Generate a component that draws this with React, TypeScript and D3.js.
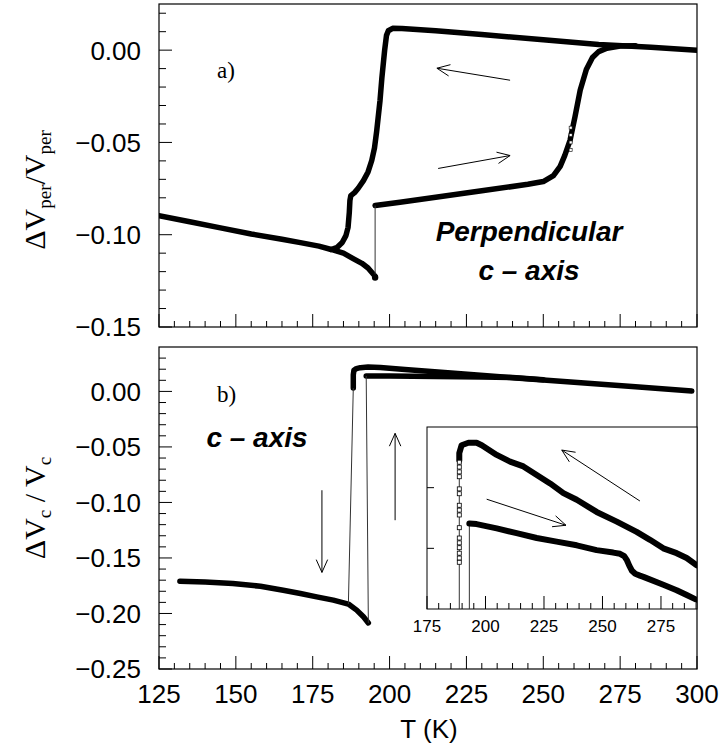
import React from "react";
import * as d3 from "d3";

// ---------- DATA ----------
// x axis (temperature, K)
const xTicksMajor = [125, 150, 175, 200, 225, 250, 275, 300];
const xTickLabels = ["125", "150", "175", "200", "225", "250", "275", "300"];
const yTopTicks = [0, -0.05, -0.1, -0.15];
const yTopLabels = ["0.00", "\u22120.05", "\u22120.10", "\u22120.15"];
const yBotTicks = [0, -0.05, -0.1, -0.15, -0.2, -0.25];
const yBotLabels = ["0.00", "\u22120.05", "\u22120.10", "\u22120.15", "\u22120.20", "\u22120.25"];
const insetXTicks = [175, 200, 225, 250, 275];
const insetXLabels = ["175", "200", "225", "250", "275"];
const insetYTicks = [1, 2];

// Panel a) perpendicular
const lowA: [number, number][] = [
  [125, -0.0897], [135, -0.093], [145, -0.0963], [155, -0.0996], [165, -0.1025],
  [171, -0.1043], [177, -0.1062], [181, -0.108], [185, -0.11], [188, -0.1128],
  [191, -0.1155], [193, -0.118], [195.3, -0.1225],
];
const coolA: [number, number][] = [
  [300, 0.0], [285, 0.0016], [268, 0.003], [250, 0.0056], [230, 0.0085], [215, 0.0105],
  [204, 0.0117], [201, 0.0118], [199.6, 0.0105], [199, 0.008], [198.4, 0.0], [197.5, -0.015],
  [196.9, -0.0272], [195.8, -0.044], [195.1, -0.053], [194.2, -0.0598], [193, -0.066],
  [191.5, -0.0707], [189.8, -0.0748], [188.6, -0.0772], [187.4, -0.0788], [187.1, -0.0815],
  [186.9, -0.088], [186.5, -0.096], [185.8, -0.1005], [184.6, -0.1042], [183, -0.1068], [181, -0.108],
];
const heatA: [number, number][] = [
  [195.3, -0.0842], [203.4, -0.0824], [215, -0.0797], [230, -0.0762], [245, -0.0727],
  [250, -0.0712], [253.3, -0.068], [255.5, -0.063], [257, -0.057], [258.7, -0.0489],
  [260.3, -0.0362], [262, -0.0217], [264, -0.0105], [266, -0.004], [268, -0.0008],
  [270.7, 0.001], [275, 0.0022], [280, 0.0024],
];
const heatASquares = [-0.042, -0.046, -0.05, -0.054];

// Panel b) c-axis
const lowB: [number, number][] = [
  [131.8, -0.171], [140, -0.1717], [149, -0.173], [158, -0.1755], [165.4, -0.179],
  [171, -0.182], [176.3, -0.185], [181.7, -0.188], [186.6, -0.1915], [189.3, -0.197],
  [191.5, -0.203], [193.1, -0.2085],
];
const coolB: [number, number][] = [
  [298.3, 0.0003], [280, 0.0041], [260, 0.0083], [240, 0.0124], [220, 0.0166], [205, 0.0198],
  [197, 0.0216], [193, 0.0219], [190.5, 0.0214], [189.2, 0.0205], [188.4, 0.019],
  [188.2, 0.015], [188.2, 0.008], [188.2, 0.003],
];
const heatB: [number, number][] = [
  [192.4, 0.0139], [200, 0.0138], [215, 0.0135], [230, 0.013], [240, 0.0125], [250, 0.0106],
];

// Inset (arbitrary units)
const inCool: [number, number][] = [
  [188.8, 2.45], [188.8, 2.57], [189.8, 2.7], [192.7, 2.74], [196.2, 2.74], [198.4, 2.7],
  [204.8, 2.54], [210.5, 2.43], [216.2, 2.35], [221.9, 2.21], [227.6, 2.07], [233.3, 1.91],
  [239, 1.8], [247.5, 1.6], [256.1, 1.44], [264.6, 1.27], [270.3, 1.14], [276, 1.0],
  [281.7, 0.92], [286, 0.84], [290.3, 0.72],
];
const inCoolSquares = [2.42, 2.34, 2.26, 2.18, 1.98, 1.9, 1.71, 1.63, 1.55, 1.34, 1.17, 1.09, 1.01, 0.92, 0.84, 0.77];
const inHeat: [number, number][] = [
  [193.1, 1.41], [196.2, 1.4], [204.8, 1.33], [213.3, 1.25], [221.9, 1.17], [230.4, 1.11],
  [239, 1.05], [247.5, 0.97], [254.6, 0.93], [257.5, 0.91], [259.3, 0.87], [260.5, 0.8],
  [261.5, 0.71], [262.6, 0.63], [264, 0.58], [266, 0.55], [267.5, 0.53], [276, 0.4],
  [281.7, 0.31], [286, 0.23], [290.3, 0.15],
];

// arrows: [x1, y1, x2, y2] in data units
const arrowsA: [number, number, number, number][] = [
  [239.2, -0.0163, 215.4, -0.0098],
  [215.8, -0.0641, 239.2, -0.0571],
];
const arrowsB: [number, number, number, number][] = [
  [178, -0.089, 178, -0.163],
  [201.8, -0.116, 201.8, -0.0378],
];
const arrowsIn: [number, number, number, number][] = [
  [266.0, 1.78, 232.6, 2.62],
  [200.5, 1.81, 234.4, 1.38],
];

// ---------- SCALES ----------
const xMain = d3.scaleLinear().domain([125, 300]).range([159, 697]);
const yTop = d3.scaleLinear().domain([-0.15, 0.025]).range([327, 4]);
const yBot = d3.scaleLinear().domain([-0.25, 0.04]).range([669, 347]);
const xIn = d3.scaleLinear().domain([175, 290.4]).range([427, 697]);
const yIn = d3.scaleLinear().domain([0, 3]).range([609, 427]);

const SANS = "'Liberation Sans', Arial, Helvetica, sans-serif";
const SERIF = "'Liberation Serif', 'Times New Roman', serif";

function arrowPath(x1: number, y1: number, x2: number, y2: number, len = 14, ang = 0.42) {
  const a = Math.atan2(y2 - y1, x2 - x1);
  const h1x = x2 - len * Math.cos(a - ang);
  const h1y = y2 - len * Math.sin(a - ang);
  const h2x = x2 - len * Math.cos(a + ang);
  const h2y = y2 - len * Math.sin(a + ang);
  return `M${x1},${y1}L${x2},${y2}M${h1x},${h1y}L${x2},${y2}L${h2x},${h2y}`;
}

export default function App() {
  const lineTop = d3.line<[number, number]>().x((d) => xMain(d[0])).y((d) => yTop(d[1]));
  const lineBot = d3.line<[number, number]>().x((d) => xMain(d[0])).y((d) => yBot(d[1]));
  const lineIn = d3.line<[number, number]>().x((d) => xIn(d[0])).y((d) => yIn(d[1]));

  const xMinor = d3.range(125, 301, 5);
  const yTopMinor = d3.range(-15, 3).map((i) => i / 100);
  const yBotMinor = d3.range(-25, 4).map((i) => i / 100);
  const inXMinor = d3.range(175, 291, 5);

  const thick = { fill: "none", stroke: "#000", strokeWidth: 5.5, strokeLinejoin: "round" as const, strokeLinecap: "round" as const };
  const thin = { fill: "none", stroke: "#333", strokeWidth: 1 };

  const L = 159, R = 697;

  return (
    <svg width={720} height={749} style={{ position: "absolute", left: 0, top: 0, background: "#fff" }}>
      <defs>
        <clipPath id="clipIn">
          <rect x={427} y={427} width={270} height={182} />
        </clipPath>
        <clipPath id="clipTop">
          <rect x={L} y={4} width={R - L} height={323} />
        </clipPath>
        <clipPath id="clipBot">
          <rect x={L} y={347} width={R - L} height={322} />
        </clipPath>
      </defs>

      {/* ===== Panel a ===== */}
      <rect x={L} y={4} width={R - L} height={323} fill="none" stroke="#000" strokeWidth={1.2} />
      {xMinor.map((t) => (
        <line key={"xa" + t} x1={xMain(t)} x2={xMain(t)} y1={327} y2={xTicksMajor.includes(t) ? 314 : 321} stroke="#000" />
      ))}
      {yTopMinor.map((v, i) => {
        const major = Math.round(v * 100) % 5 === 0;
        return <line key={"ya" + i} x1={L} x2={L + (major ? 13 : 7)} y1={yTop(v)} y2={yTop(v)} stroke="#000" />;
      })}
      {yTopTicks.map((v, i) => (
        <text key={"yta" + i} x={141} y={yTop(v)} dy="0.36em" textAnchor="end" fontFamily={SANS} fontSize={26}>
          {yTopLabels[i]}
        </text>
      ))}
      <text transform="translate(45,190) rotate(-90)" textAnchor="middle" fontFamily={SERIF} fontSize={30}>
        ΔV<tspan fontSize={19} dy={6}>per</tspan>
        <tspan dy={-6}>/V</tspan>
        <tspan fontSize={19} dy={6}>per</tspan>
      </text>
      <g clipPath="url(#clipTop)">
        <path d={lineTop(lowA) || ""} {...thick} />
        <path d={lineTop(coolA) || ""} {...thick} />
        <path d={lineTop(heatA) || ""} {...thick} />
        <path d={lineTop([lowA[lowA.length - 1], heatA[0]]) || ""} {...thin} />
        <circle cx={xMain(195.3)} cy={yTop(-0.1232)} r={3.2} fill="#000" />
        {heatASquares.map((v, i) => (
          <rect key={"sqa" + i} x={xMain(258.9) - 1.5} y={yTop(v) - 1.5} width={3} height={3} fill="#fff" stroke="#000" strokeWidth={0.6} />
        ))}
      </g>
      {arrowsA.map((a, i) => (
        <path key={"aa" + i} d={arrowPath(xMain(a[0]), yTop(a[1]), xMain(a[2]), yTop(a[3]))} fill="none" stroke="#000" strokeWidth={1} />
      ))}
      <text x={217} y={78} fontFamily={SERIF} fontSize={23}>a)</text>
      <text x={529} y={241} textAnchor="middle" fontFamily={SANS} fontSize={28} fontWeight="bold" fontStyle="italic">
        Perpendicular
      </text>
      <text x={529} y={280} textAnchor="middle" fontFamily={SANS} fontSize={28} fontWeight="bold" fontStyle="italic">
        c – axis
      </text>

      {/* ===== Panel b ===== */}
      <rect x={L} y={347} width={R - L} height={322} fill="none" stroke="#000" strokeWidth={1.2} />
      {xMinor.map((t) => (
        <line key={"xb" + t} x1={xMain(t)} x2={xMain(t)} y1={669} y2={xTicksMajor.includes(t) ? 656 : 663} stroke="#000" />
      ))}
      {yBotMinor.map((v, i) => {
        const major = Math.round(v * 100) % 5 === 0;
        return <line key={"yb" + i} x1={L} x2={L + (major ? 13 : 7)} y1={yBot(v)} y2={yBot(v)} stroke="#000" />;
      })}
      {yBotTicks.map((v, i) => (
        <text key={"ytb" + i} x={141} y={yBot(v)} dy="0.36em" textAnchor="end" fontFamily={SANS} fontSize={26}>
          {yBotLabels[i]}
        </text>
      ))}
      {xTicksMajor.map((t, i) => (
        <text key={"xtb" + i} x={xMain(t)} y={703} textAnchor="middle" fontFamily={SANS} fontSize={26}>
          {xTickLabels[i]}
        </text>
      ))}
      <text x={429} y={738} textAnchor="middle" fontFamily={SANS} fontSize={26}>T (K)</text>
      <text transform="translate(45,508) rotate(-90)" textAnchor="middle" fontFamily={SERIF} fontSize={30}>
        ΔV<tspan fontSize={19} dy={6}>c</tspan>
        <tspan dy={-6}> / V</tspan>
        <tspan fontSize={19} dy={6}>c</tspan>
      </text>
      <g clipPath="url(#clipBot)">
        <path d={lineBot(lowB) || ""} {...thick} />
        <path d={lineBot(coolB) || ""} {...thick} />
        <path d={lineBot(heatB) || ""} {...thick} />
        <path d={lineBot([coolB[coolB.length - 1], lowB[8]]) || ""} {...thin} />
        <path d={lineBot([lowB[lowB.length - 1], heatB[0]]) || ""} {...thin} />
      </g>
      {arrowsB.map((a, i) => (
        <path key={"ab" + i} d={arrowPath(xMain(a[0]), yBot(a[1]), xMain(a[2]), yBot(a[3]))} fill="none" stroke="#000" strokeWidth={1} />
      ))}
      <text x={217} y={402} fontFamily={SERIF} fontSize={23}>b)</text>
      <text x={257} y={447} textAnchor="middle" fontFamily={SANS} fontSize={28} fontWeight="bold" fontStyle="italic">
        c – axis
      </text>

      {/* ===== Inset ===== */}
      <rect x={427} y={427} width={270} height={182} fill="#fff" stroke="#000" strokeWidth={1} />
      {inXMinor.map((t) => (
        <line key={"xi" + t} x1={xIn(t)} x2={xIn(t)} y1={609} y2={insetXTicks.includes(t) ? 596 : 603} stroke="#000" />
      ))}
      {insetYTicks.map((v) => (
        <line key={"yi" + v} x1={427} x2={434} y1={yIn(v)} y2={yIn(v)} stroke="#000" />
      ))}
      {insetXTicks.map((t, i) => (
        <text key={"xti" + i} x={xIn(t)} y={632} textAnchor="middle" fontFamily={SANS} fontSize={17}>
          {insetXLabels[i]}
        </text>
      ))}
      <g clipPath="url(#clipIn)">
        <path d={lineIn([[inCool[0][0], 0], inCool[0]]) || ""} {...thin} />
        <path d={lineIn([[inHeat[0][0], 0], inHeat[0]]) || ""} {...thin} />
        <path d={lineIn(inCool) || ""} {...thick} strokeWidth={6} />
        <path d={lineIn(inHeat) || ""} {...thick} strokeWidth={6} />
        {inCoolSquares.map((v, i) => (
          <rect key={"sqi" + i} x={xIn(188.8) - 2} y={yIn(v) - 2} width={4} height={4} fill="#fff" stroke="#000" strokeWidth={0.8} />
        ))}
      </g>
      {arrowsIn.map((a, i) => (
        <path key={"ai" + i} d={arrowPath(xIn(a[0]), yIn(a[1]), xIn(a[2]), yIn(a[3]))} fill="none" stroke="#000" strokeWidth={1} />
      ))}
    </svg>
  );
}
